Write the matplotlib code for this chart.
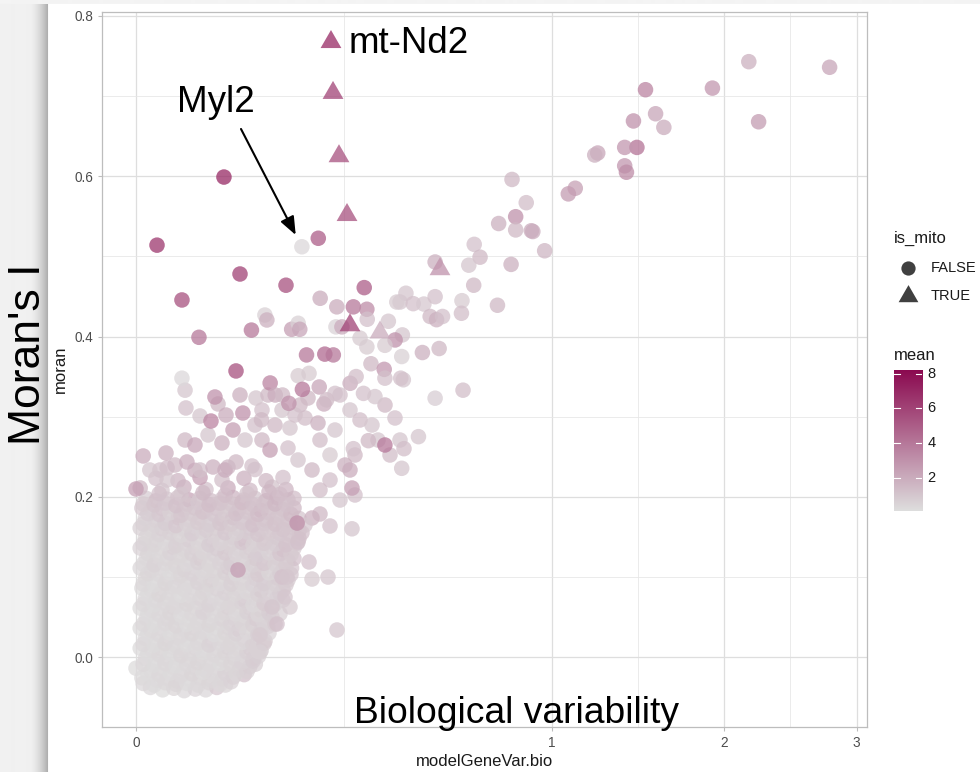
import numpy as np
import matplotlib
matplotlib.use("Agg")
import matplotlib.pyplot as plt
from matplotlib.colors import LinearSegmentedColormap, Normalize
from matplotlib.path import Path

plt.rcParams['font.family'] = ['Liberation Sans', 'DejaVu Sans']

# ---------------- data ----------------
# dense cloud of non-mito genes (modelGeneVar.bio, moran, mean)
cloud_x = [
 0.0012, 0.0041, 0.0083, 0.0134, 0.0203, 0.0281, 0.0377, 0.0462,
 0.0002, 0.0025, 0.0058, 0.0099, 0.0166, 0.0236, 0.0328, 0.0431, 0.0547, 0.0676,
 0.0000, 0.0013, 0.0041, 0.0079, 0.0131, 0.0202, 0.0281, 0.0383, 0.0488, 0.0615, 0.0748, 0.0823,
 0.0005, 0.0022, 0.0057, 0.0101, 0.0163, 0.0235, 0.0327, 0.0425, 0.0546, 0.0671, 0.0792, 0.0868,
 0.0001, 0.0015, 0.0038, 0.0080, 0.0132, 0.0203, 0.0282, 0.0381, 0.0487, 0.0611, 0.0753, 0.0905,
 0.0005, 0.0024, 0.0055, 0.0103, 0.0161, 0.0238, 0.0324, 0.0429, 0.0542, 0.0676, 0.0816, 0.0962,
 0.0001, 0.0013, 0.0040, 0.0078, 0.0134, 0.0200, 0.0285, 0.0378, 0.0491, 0.0612, 0.0750, 0.0901, 0.1002,
 0.0006, 0.0023, 0.0057, 0.0101, 0.0163, 0.0236, 0.0326, 0.0428, 0.0543, 0.0673, 0.0819, 0.0975, 0.1068,
 0.0001, 0.0014, 0.0039, 0.0080, 0.0133, 0.0202, 0.0284, 0.0380, 0.0488, 0.0614, 0.0752, 0.0904, 0.1070,
 0.0005, 0.0022, 0.0056, 0.0102, 0.0161, 0.0237, 0.0325, 0.0426, 0.0545, 0.0675, 0.0817, 0.0978, 0.1150, 0.1247,
 0.0002, 0.0014, 0.0040, 0.0079, 0.0134, 0.0201, 0.0283, 0.0379, 0.0490, 0.0613, 0.0751, 0.0902, 0.1068, 0.1250,
 0.0005, 0.0023, 0.0055, 0.0103, 0.0162, 0.0238, 0.0324, 0.0428, 0.0543, 0.0674, 0.0819, 0.0976, 0.1148, 0.1334,
 0.0001, 0.0014, 0.0039, 0.0079, 0.0132, 0.0200, 0.0283, 0.0380, 0.0489, 0.0612, 0.0751, 0.0904, 0.1069, 0.1248, 0.1398,
 0.0006, 0.0023, 0.0056, 0.0101, 0.0163, 0.0236, 0.0325, 0.0427, 0.0544, 0.0673, 0.0818, 0.0977, 0.1149, 0.1336, 0.1442,
 0.0001, 0.0013, 0.0040, 0.0080, 0.0133, 0.0202, 0.0282, 0.0378, 0.0490, 0.0614, 0.0750, 0.0903, 0.1068, 0.1249, 0.1444,
 0.0005, 0.0024, 0.0057, 0.0102, 0.0161, 0.0238, 0.0326, 0.0426, 0.0545, 0.0675, 0.0817, 0.0976, 0.1150, 0.1335, 0.1534,
 0.0001, 0.0014, 0.0039, 0.0079, 0.0134, 0.0201, 0.0284, 0.0379, 0.0488, 0.0613, 0.0752, 0.0902, 0.1070, 0.1248, 0.1443, 0.1536,
 0.0005, 0.0023, 0.0056, 0.0103, 0.0162, 0.0237, 0.0324, 0.0428, 0.0543, 0.0674, 0.0819, 0.0977, 0.1148, 0.1334, 0.1535,
 0.0002, 0.0013, 0.0040, 0.0080, 0.0132, 0.0200, 0.0283, 0.0380, 0.0489, 0.0612, 0.0751, 0.0903, 0.1069, 0.1249, 0.1443,
 0.0006, 0.0023, 0.0056, 0.0101, 0.0163, 0.0236, 0.0325, 0.0427, 0.0544, 0.0673, 0.0818, 0.0977, 0.1149, 0.1335, 0.1442,
 0.0001, 0.0039, 0.0133, 0.0283, 0.0489, 0.0751, 0.1069, 0.1300,
 0.0023, 0.0102, 0.0237, 0.0427, 0.0674, 0.0977, 0.1249,
 0.0056, 0.0201, 0.0489, 0.0818,
]
cloud_y = [
 -0.038, -0.041, -0.039, -0.042, -0.040, -0.041, -0.038, -0.035,
 -0.026, -0.029, -0.027, -0.030, -0.028, -0.026, -0.029, -0.027, -0.025, -0.022,
 -0.014, -0.017, -0.015, -0.013, -0.016, -0.014, -0.017, -0.015, -0.013, -0.016, -0.012, -0.009,
 -0.002, -0.005, -0.003, -0.001, -0.004, -0.002, -0.005, -0.003, -0.001, -0.004, -0.002, 0.001,
 0.011, 0.008, 0.010, 0.012, 0.009, 0.011, 0.008, 0.010, 0.012, 0.009, 0.011, 0.008,
 0.023, 0.020, 0.022, 0.024, 0.021, 0.023, 0.020, 0.022, 0.024, 0.021, 0.023, 0.020,
 0.036, 0.033, 0.035, 0.037, 0.034, 0.036, 0.033, 0.035, 0.037, 0.034, 0.036, 0.033, 0.038,
 0.048, 0.045, 0.047, 0.049, 0.046, 0.048, 0.045, 0.047, 0.049, 0.046, 0.048, 0.045, 0.050,
 0.061, 0.058, 0.060, 0.062, 0.059, 0.061, 0.058, 0.060, 0.062, 0.059, 0.061, 0.058, 0.063,
 0.073, 0.070, 0.072, 0.074, 0.071, 0.073, 0.070, 0.072, 0.074, 0.071, 0.073, 0.070, 0.074, 0.071,
 0.086, 0.083, 0.085, 0.087, 0.084, 0.086, 0.083, 0.085, 0.087, 0.084, 0.086, 0.083, 0.087, 0.084,
 0.098, 0.095, 0.097, 0.099, 0.096, 0.098, 0.095, 0.097, 0.099, 0.096, 0.098, 0.095, 0.099, 0.096,
 0.111, 0.108, 0.110, 0.112, 0.109, 0.111, 0.108, 0.110, 0.112, 0.109, 0.111, 0.108, 0.112, 0.109, 0.111,
 0.123, 0.120, 0.122, 0.124, 0.121, 0.123, 0.120, 0.122, 0.124, 0.121, 0.123, 0.120, 0.124, 0.121, 0.123,
 0.136, 0.133, 0.135, 0.137, 0.134, 0.136, 0.133, 0.135, 0.137, 0.134, 0.136, 0.133, 0.137, 0.134, 0.136,
 0.148, 0.145, 0.147, 0.149, 0.146, 0.148, 0.145, 0.147, 0.149, 0.146, 0.148, 0.145, 0.149, 0.146, 0.148,
 0.161, 0.158, 0.160, 0.162, 0.159, 0.161, 0.158, 0.160, 0.162, 0.159, 0.161, 0.158, 0.162, 0.159, 0.161, 0.158,
 0.173, 0.170, 0.172, 0.174, 0.171, 0.173, 0.170, 0.172, 0.174, 0.171, 0.173, 0.170, 0.174, 0.171, 0.173,
 0.186, 0.183, 0.185, 0.187, 0.184, 0.186, 0.183, 0.185, 0.187, 0.184, 0.186, 0.183, 0.187, 0.184, 0.186,
 0.198, 0.195, 0.197, 0.199, 0.196, 0.198, 0.195, 0.197, 0.199, 0.196, 0.198, 0.195, 0.199, 0.196, 0.198,
 0.211, 0.208, 0.212, 0.209, 0.211, 0.208, 0.212, 0.209,
 0.223, 0.220, 0.224, 0.221, 0.223, 0.220, 0.224,
 0.236, 0.233, 0.237, 0.234,
]
cloud_mean = [
 0.3, 0.2, 0.4, 0.3, 0.5, 0.3, 0.9, 0.4,
 0.2, 0.3, 0.3, 0.5, 0.2, 0.4, 0.3, 0.6, 0.8, 1.2,
 0.2, 0.3, 0.2, 0.4, 0.3, 0.3, 0.5, 0.3, 0.4, 0.7, 0.9, 0.6,
 0.3, 0.2, 0.3, 0.2, 0.4, 0.3, 0.3, 0.6, 0.5, 0.4, 0.8, 0.5,
 0.2, 0.3, 0.4, 0.3, 0.2, 0.5, 0.3, 0.3, 0.7, 0.5, 1.0, 0.6,
 0.3, 0.2, 0.3, 0.4, 0.3, 0.2, 0.6, 0.4, 0.3, 0.9, 0.5, 0.8,
 0.2, 0.4, 0.3, 0.2, 0.3, 0.5, 0.3, 0.4, 0.6, 1.1, 0.4, 0.7, 0.9,
 0.3, 0.2, 0.5, 0.3, 0.4, 0.3, 0.2, 0.8, 0.5, 0.6, 1.2, 0.5, 0.8,
 0.2, 0.3, 0.3, 0.6, 0.3, 0.4, 0.5, 0.3, 0.9, 0.4, 0.7, 1.0, 0.6,
 0.3, 0.5, 0.2, 0.3, 0.4, 0.8, 0.3, 0.5, 0.4, 1.3, 0.6, 0.5, 0.9, 0.7,
 0.2, 0.3, 0.4, 0.3, 0.6, 0.3, 0.5, 0.9, 0.4, 0.6, 0.5, 1.4, 0.7, 1.0,
 0.4, 0.2, 0.3, 0.5, 0.3, 0.4, 1.0, 0.4, 0.6, 0.5, 0.9, 0.6, 1.2, 0.8,
 0.3, 0.5, 0.3, 0.4, 0.8, 0.3, 0.5, 0.4, 1.2, 0.6, 0.5, 0.8, 0.7, 1.0, 0.9,
 0.3, 0.4, 0.6, 0.3, 0.5, 1.1, 0.4, 0.6, 0.5, 0.8, 1.5, 0.6, 0.9, 0.7, 1.2,
 0.5, 0.3, 0.4, 0.9, 0.4, 0.6, 0.5, 1.3, 0.6, 0.5, 0.9, 0.7, 1.0, 1.6, 0.8,
 0.4, 0.6, 0.3, 0.5, 1.2, 0.5, 0.8, 0.6, 0.7, 1.8, 0.6, 0.9, 1.1, 0.8, 1.3,
 0.6, 0.4, 1.0, 0.5, 0.7, 0.6, 1.5, 0.8, 0.6, 0.9, 1.2, 0.7, 1.0, 1.4, 0.9, 1.1,
 0.5, 0.8, 0.6, 1.3, 0.7, 0.9, 0.6, 1.1, 1.8, 0.8, 1.0, 1.4, 0.9, 1.2, 1.0,
 0.9, 0.6, 1.2, 0.8, 1.0, 1.6, 0.9, 1.2, 0.8, 1.4, 1.1, 2.0, 1.0, 1.3, 1.5,
 0.7, 1.4, 0.9, 1.1, 2.2, 1.0, 1.3, 0.9, 1.6, 1.2, 1.0, 1.5, 1.8, 1.1, 1.3,
 1.5, 1.0, 1.8, 1.2, 2.0, 1.4, 1.1, 1.6,
 1.2, 1.6, 2.4, 1.3, 1.8, 1.5, 1.2,
 1.4, 2.0, 1.6, 1.2,
]

# second (interleaved) layer of the dense cloud
cloud2_x = [
 0.0003, 0.0019, 0.0049, 0.0092, 0.0150, 0.0222, 0.0308, 0.0408, 0.0522,
 0.0008, 0.0031, 0.0067, 0.0117, 0.0181, 0.0259, 0.0352, 0.0458, 0.0578, 0.0712,
 0.0003, 0.0019, 0.0049, 0.0092, 0.0150, 0.0222, 0.0308, 0.0408, 0.0522, 0.0649, 0.0791,
 0.0008, 0.0031, 0.0067, 0.0117, 0.0181, 0.0259, 0.0352, 0.0458, 0.0578, 0.0712, 0.0860,
 0.0003, 0.0019, 0.0049, 0.0092, 0.0150, 0.0222, 0.0308, 0.0408, 0.0522, 0.0649, 0.0791, 0.0947,
 0.0008, 0.0031, 0.0067, 0.0117, 0.0181, 0.0259, 0.0352, 0.0458, 0.0578, 0.0712, 0.0860, 0.1022,
 0.0003, 0.0019, 0.0049, 0.0092, 0.0150, 0.0222, 0.0308, 0.0408, 0.0522, 0.0649, 0.0791, 0.0947, 0.1117,
 0.0008, 0.0031, 0.0067, 0.0117, 0.0181, 0.0259, 0.0352, 0.0458, 0.0578, 0.0712, 0.0860, 0.1022, 0.1198,
 0.0003, 0.0019, 0.0049, 0.0092, 0.0150, 0.0222, 0.0308, 0.0408, 0.0522, 0.0649, 0.0791, 0.0947, 0.1117,
 0.0008, 0.0031, 0.0067, 0.0117, 0.0181, 0.0259, 0.0352, 0.0458, 0.0578, 0.0712, 0.0860, 0.1022, 0.1198,
 0.0003, 0.0019, 0.0049, 0.0092, 0.0150, 0.0222, 0.0308, 0.0408, 0.0522, 0.0649, 0.0791, 0.0947, 0.1117, 0.1300,
 0.0008, 0.0031, 0.0067, 0.0117, 0.0181, 0.0259, 0.0352, 0.0458, 0.0578, 0.0712, 0.0860, 0.1022, 0.1198, 0.1388,
 0.0003, 0.0019, 0.0049, 0.0092, 0.0150, 0.0222, 0.0308, 0.0408, 0.0522, 0.0649, 0.0791, 0.0947, 0.1117, 0.1300,
 0.0008, 0.0031, 0.0067, 0.0117, 0.0181, 0.0259, 0.0352, 0.0458, 0.0578, 0.0712, 0.0860, 0.1022, 0.1198, 0.1388,
 0.0003, 0.0019, 0.0049, 0.0092, 0.0150, 0.0222, 0.0308, 0.0408, 0.0522, 0.0649, 0.0791, 0.0947, 0.1117, 0.1300, 0.1498,
 0.0008, 0.0031, 0.0067, 0.0117, 0.0181, 0.0259, 0.0352, 0.0458, 0.0578, 0.0712, 0.0860, 0.1022, 0.1198, 0.1388, 0.1592,
 0.0003, 0.0019, 0.0049, 0.0092, 0.0150, 0.0222, 0.0308, 0.0408, 0.0522, 0.0649, 0.0791, 0.0947, 0.1117, 0.1300, 0.1498,
 0.0008, 0.0031, 0.0067, 0.0117, 0.0181, 0.0259, 0.0352, 0.0458, 0.0578, 0.0712, 0.0860, 0.1022, 0.1198, 0.1388,
 0.0003, 0.0019, 0.0049, 0.0092, 0.0150, 0.0222, 0.0308, 0.0408, 0.0522, 0.0649, 0.0791, 0.0947, 0.1117, 0.1300,
 0.0031, 0.0117, 0.0259, 0.0458, 0.0712, 0.1022, 0.1198,
]
cloud2_y = [
 -0.033, -0.035, -0.032, -0.034, -0.033, -0.035, -0.032, -0.034, -0.031,
 -0.021, -0.022, -0.020, -0.023, -0.021, -0.019, -0.022, -0.020, -0.021, -0.018,
 -0.009, -0.010, -0.008, -0.011, -0.009, -0.007, -0.010, -0.008, -0.009, -0.007, -0.005,
 0.004, 0.003, 0.005, 0.002, 0.004, 0.006, 0.003, 0.005, 0.004, 0.006, 0.007,
 0.016, 0.015, 0.017, 0.014, 0.016, 0.018, 0.015, 0.017, 0.016, 0.018, 0.015, 0.017,
 0.029, 0.028, 0.030, 0.027, 0.029, 0.031, 0.028, 0.030, 0.029, 0.031, 0.028, 0.030,
 0.041, 0.040, 0.042, 0.039, 0.041, 0.043, 0.040, 0.042, 0.041, 0.043, 0.040, 0.042, 0.041,
 0.054, 0.053, 0.055, 0.052, 0.054, 0.056, 0.053, 0.055, 0.054, 0.056, 0.053, 0.055, 0.054,
 0.066, 0.065, 0.067, 0.064, 0.066, 0.068, 0.065, 0.067, 0.066, 0.068, 0.065, 0.067, 0.066,
 0.079, 0.078, 0.080, 0.077, 0.079, 0.081, 0.078, 0.080, 0.079, 0.081, 0.078, 0.080, 0.079,
 0.091, 0.090, 0.092, 0.089, 0.091, 0.093, 0.090, 0.092, 0.091, 0.093, 0.090, 0.092, 0.091, 0.090,
 0.104, 0.103, 0.105, 0.102, 0.104, 0.106, 0.103, 0.105, 0.104, 0.106, 0.103, 0.105, 0.104, 0.103,
 0.116, 0.115, 0.117, 0.114, 0.116, 0.118, 0.115, 0.117, 0.116, 0.118, 0.115, 0.117, 0.116, 0.115,
 0.129, 0.128, 0.130, 0.127, 0.129, 0.131, 0.128, 0.130, 0.129, 0.131, 0.128, 0.130, 0.129, 0.128,
 0.141, 0.140, 0.142, 0.139, 0.141, 0.143, 0.140, 0.142, 0.141, 0.143, 0.140, 0.142, 0.141, 0.140, 0.142,
 0.154, 0.153, 0.155, 0.152, 0.154, 0.156, 0.153, 0.155, 0.154, 0.156, 0.153, 0.155, 0.154, 0.153, 0.155,
 0.166, 0.165, 0.167, 0.164, 0.166, 0.168, 0.165, 0.167, 0.166, 0.168, 0.165, 0.167, 0.166, 0.165, 0.167,
 0.179, 0.178, 0.180, 0.177, 0.179, 0.181, 0.178, 0.180, 0.179, 0.181, 0.178, 0.180, 0.179, 0.178,
 0.191, 0.190, 0.192, 0.189, 0.191, 0.193, 0.190, 0.192, 0.191, 0.193, 0.190, 0.192, 0.191, 0.190,
 0.204, 0.203, 0.205, 0.202, 0.204, 0.206, 0.203,
]
cloud2_mean = [
 0.3, 0.2, 0.3, 0.4, 0.2, 0.3, 0.4, 0.3, 0.5,
 0.2, 0.3, 0.2, 0.3, 0.4, 0.2, 0.3, 0.5, 0.4, 0.6,
 0.3, 0.2, 0.3, 0.2, 0.3, 0.4, 0.3, 0.2, 0.4, 0.5, 0.7,
 0.2, 0.3, 0.2, 0.4, 0.3, 0.2, 0.3, 0.4, 0.3, 0.6, 0.5,
 0.3, 0.2, 0.4, 0.3, 0.2, 0.3, 0.5, 0.3, 0.4, 0.3, 0.6, 0.8,
 0.2, 0.3, 0.2, 0.3, 0.4, 0.3, 0.2, 0.4, 0.5, 0.3, 0.7, 0.5,
 0.3, 0.2, 0.3, 0.4, 0.2, 0.3, 0.4, 0.3, 0.5, 0.4, 0.6, 0.5, 0.8,
 0.2, 0.3, 0.4, 0.2, 0.3, 0.5, 0.3, 0.4, 0.3, 0.6, 0.4, 0.7, 0.6,
 0.3, 0.2, 0.3, 0.3, 0.4, 0.3, 0.5, 0.3, 0.4, 0.5, 0.3, 0.8, 0.6,
 0.2, 0.4, 0.3, 0.2, 0.3, 0.4, 0.3, 0.5, 0.4, 0.3, 0.6, 0.5, 0.7,
 0.3, 0.2, 0.4, 0.3, 0.3, 0.5, 0.4, 0.3, 0.6, 0.4, 0.5, 0.7, 0.6, 0.8,
 0.4, 0.3, 0.2, 0.4, 0.5, 0.3, 0.4, 0.6, 0.3, 0.5, 0.8, 0.4, 0.7, 0.9,
 0.3, 0.5, 0.3, 0.4, 0.3, 0.6, 0.4, 0.5, 0.7, 0.4, 0.6, 0.9, 0.6, 0.8,
 0.4, 0.3, 0.5, 0.4, 0.6, 0.4, 0.5, 0.8, 0.5, 0.6, 0.7, 0.5, 1.0, 0.8,
 0.5, 0.4, 0.3, 0.6, 0.5, 0.4, 0.7, 0.5, 0.6, 0.9, 0.6, 0.8, 0.7, 1.1, 0.9,
 0.4, 0.5, 0.6, 0.4, 0.7, 0.5, 0.6, 0.9, 0.6, 0.7, 1.0, 0.8, 0.9, 1.0, 1.2,
 0.6, 0.5, 0.7, 0.9, 0.6, 0.8, 0.7, 1.0, 0.8, 0.9, 1.2, 0.9, 1.1, 1.0, 1.3,
 0.7, 0.9, 0.6, 1.0, 0.8, 1.1, 0.9, 0.8, 1.2, 1.0, 1.3, 1.1, 1.0, 1.4,
 0.8, 1.0, 0.9, 1.2, 1.0, 0.9, 1.3, 1.1, 1.0, 1.4, 1.2, 1.1, 1.5, 1.2,
 1.2, 1.0, 1.5, 1.3, 1.1, 1.6, 1.3,
]

# scattered non-mito genes
spread_x = [
 0.2696, 0.2175, 0.1956, 0.1790, 0.2130, 0.1790, 0.1730, 0.2334, 0.1283, 0.1149,
 0.1370, 0.1069, 0.0889, 0.0889, 0.1232, 0.1317, 0.1517, 0.1650, 0.1500, 0.0601,
 0.0000, 0.0003, 0.0033, 0.0056, 0.0088, 0.0150, 0.0237, 0.0343, 0.0458, 0.0578,
 0.0778, 0.0917, 0.1038, 0.1335, 0.1517, 0.1790, 0.1956, 0.2175, 0.0139, 0.0201,
 0.0300, 0.0427, 0.0687, 0.0544, 0.0818, 0.1117, 0.1370, 0.1651, 0.1914, 0.2288,
 0.1554, 0.0917, 0.0052, 0.0011, 0.0144, 0.0237, 0.0389, 0.0625, 0.0832, 0.1007,
 0.1232, 0.1461, 0.1710, 0.2042, 0.2405, 0.2646, 0.2900, 0.3218, 0.3583, 0.3876,
 0.3384, 0.3728, 0.4027, 0.2771, 0.2524, 0.2175, 0.1956, 0.2405, 0.2771, 0.2696,
 0.2646,
]
spread_y = [
 0.160, 0.1635, 0.1785, 0.1735, 0.0998, 0.0973, 0.1186, 0.0337, 0.0749, 0.0412,
 0.0624, 0.0624, 0.0275, 0.0060, 0.0998, 0.0998, 0.1435, 0.1647, 0.1672, 0.1086,
 0.2097, 0.2509, 0.2334, 0.2209, 0.2396, 0.2434, 0.2334, 0.2371, 0.2334, 0.2434,
 0.2384, 0.2708, 0.2583, 0.2608, 0.2459, 0.2334, 0.2708, 0.2521, 0.2708, 0.2646,
 0.2771, 0.2671, 0.2708, 0.2833, 0.2895, 0.2895, 0.2858, 0.2983, 0.2920, 0.2833,
 0.3145, 0.3083, 0.2546, 0.2334, 0.3108, 0.3008, 0.3158, 0.3270, 0.3232, 0.3270,
 0.3083, 0.3020, 0.3232, 0.3158, 0.3270, 0.3083, 0.2958, 0.2895, 0.3145, 0.2983,
 0.2708, 0.2521, 0.2708, 0.2521, 0.2396, 0.2209, 0.2084, 0.1959, 0.2022, 0.2109,
 0.2334,
]
spread_mean = [
 1.0, 1.2, 1.5, 1.8, 1.0, 0.8, 1.2, 1.0, 1.0, 1.2,
 0.8, 1.0, 0.8, 0.6, 1.2, 1.0, 1.2, 1.0, 3.0, 2.5,
 2.5, 2.0, 1.2, 1.0, 1.5, 2.0, 1.2, 1.8, 2.0, 1.5,
 1.2, 1.5, 2.5, 1.2, 1.0, 1.5, 1.3, 0.8, 1.5, 2.2,
 1.0, 1.8, 1.0, 2.5, 1.2, 1.5, 1.0, 1.3, 1.8, 1.0,
 1.5, 1.2, 1.8, 1.0, 1.2, 1.0, 1.5, 1.8, 1.0, 1.5,
 1.0, 1.2, 1.5, 2.0, 1.2, 1.0, 1.3, 1.0, 1.5, 1.2,
 1.0, 1.3, 1.0, 1.5, 1.8, 1.2, 1.3, 1.0, 1.2, 2.5,
 2.0,
]

# upper outliers (non-mito)
upper_x = [
 2.78, 2.17, 1.92, 2.24, 1.50, 1.56, 1.43, 1.61, 1.45, 1.38,
 1.38, 1.39, 1.232, 1.216, 1.115, 1.080, 0.817, 0.880, 0.760, 0.833,
 0.833, 0.903, 0.910, 0.965, 0.661, 0.684, 0.640, 0.813, 0.517, 0.659,
 0.421, 0.403, 0.444, 0.479, 0.517, 0.614, 0.500, 0.522, 0.543, 0.612,
 0.755, 0.410, 0.474, 0.531, 0.408, 0.413, 0.405, 0.618, 0.517,
 0.192, 0.159, 0.130, 0.301, 0.196, 0.233, 0.273, 0.308, 0.309, 0.096,
 0.099, 0.077, 0.140, 0.152, 0.155, 0.231, 0.245, 0.290, 0.308, 0.368,
 0.393, 0.388, 0.358, 0.168, 0.206, 0.225, 0.319, 0.173, 0.152, 0.104,
 0.160, 0.194, 0.112, 0.124, 0.135, 0.210, 0.229, 0.265, 0.280, 0.356,
 0.358, 0.299, 0.330, 0.358, 0.415, 0.461, 0.408, 0.312, 0.273, 0.091,
 0.0447, 0.00255, 0.0122, 0.0625, 0.0229, 0.0578, 0.036, 0.0139, 0.0122, 0.066,
 0.0468, 0.0325,
]
upper_y = [
 0.736, 0.743, 0.710, 0.668, 0.708, 0.678, 0.669, 0.661, 0.636, 0.636,
 0.613, 0.605, 0.629, 0.6265, 0.585, 0.578, 0.596, 0.567, 0.541, 0.5495,
 0.533, 0.532, 0.531, 0.507, 0.515, 0.499, 0.489, 0.490, 0.493, 0.464,
 0.454, 0.443, 0.441, 0.4405, 0.4497, 0.4447, 0.425, 0.421, 0.425, 0.429,
 0.439, 0.402, 0.380, 0.385, 0.375, 0.346, 0.348, 0.333, 0.323,
 0.5226, 0.512, 0.464, 0.461, 0.4477, 0.437, 0.437, 0.434, 0.4215, 0.4268,
 0.4206, 0.408, 0.409, 0.4165, 0.409, 0.412, 0.412, 0.398, 0.387, 0.419,
 0.443, 0.3957, 0.389, 0.377, 0.378, 0.377, 0.366, 0.354, 0.351, 0.342,
 0.334, 0.337, 0.327, 0.327, 0.3166, 0.321, 0.329, 0.3416, 0.350, 0.359,
 0.348, 0.329, 0.325, 0.2646, 0.260, 0.275, 0.2355, 0.270, 0.260, 0.296,
 0.599, 0.514, 0.4456, 0.478, 0.399, 0.357, 0.3245, 0.333, 0.348, 0.3045,
 0.302, 0.2945,
]
upper_mean = [
 2.2, 1.8, 2.8, 2.6, 3.5, 2.2, 3.0, 2.0, 4.2, 2.8,
 2.8, 3.2, 2.2, 1.8, 2.4, 2.6, 1.5, 1.3, 1.8, 3.0,
 1.5, 2.0, 2.0, 1.6, 1.2, 1.5, 1.0, 1.8, 1.8, 1.5,
 1.0, 1.0, 1.2, 0.9, 1.2, 0.8, 1.5, 1.8, 1.2, 1.3,
 1.5, 1.0, 1.8, 1.5, 0.6, 1.0, 1.2, 1.3, 0.7,
 5.0, 0.3, 5.5, 5.0, 2.0, 2.0, 4.0, 3.2, 1.2, 0.6,
 1.8, 4.0, 2.5, 0.6, 2.2, 0.5, 2.0, 0.8, 0.8, 1.0,
 0.8, 3.0, 0.8, 4.0, 4.5, 4.0, 1.5, 0.8, 0.8, 3.5,
 4.0, 2.2, 2.0, 1.5, 3.0, 1.5, 1.2, 2.0, 1.3, 2.8,
 1.2, 1.2, 1.0, 4.0, 1.3, 1.0, 1.0, 1.5, 1.2, 1.5,
 7.0, 6.5, 5.5, 6.0, 4.0, 5.5, 3.0, 1.0, 0.3, 3.0,
 2.0, 3.5,
]

# mitochondrial genes (is_mito = TRUE)
mito_x = [0.2197, 0.2243, 0.2381, 0.2573, 0.2646, 0.3440, 0.5340]
mito_y = [0.7675, 0.7040, 0.6250, 0.5516, 0.4140, 0.4050, 0.4840]
mito_mean = [7.0, 6.0, 5.5, 5.5, 6.0, 2.0, 3.0]

# annotations
label_mtnd2 = "mt-Nd2"
label_myl2 = "Myl2"

x_ticks = [0, 1, 2, 3]
y_ticks = [0.0, 0.2, 0.4, 0.6, 0.8]
y_tick_labels = ["0.0", "0.2", "0.4", "0.6", "0.8"]
cbar_ticks = [2, 4, 6, 8]
mean_range = (0.06, 8.23)

# ---------------- figure ----------------
W, H = 980, 772
fig = plt.figure(figsize=(W / 100, H / 100), dpi=100)
fig.patch.set_facecolor('white')

# slide background / drop shadow
bg = fig.add_axes([0, 0, 1, 1], zorder=-10)
bg.axis('off')
img = np.ones((H, W))
img[:, :48] = 0.945
img[:4, :] = 0.955
for c in range(28, 48):
    t = (c - 28) / 19.0
    img[4:, c] = 0.945 - 0.26 * t ** 1.8
bg.imshow(img, cmap='gray', vmin=0, vmax=1, extent=[0, W, H, 0], aspect='auto',
          interpolation='bilinear')
bg.set_xlim(0, W)
bg.set_ylim(H, 0)

ax = fig.add_axes([102 / W, 1 - 727 / H, (867 - 102) / W, (727 - 12) / H])

fwd = lambda x: np.sign(x) * np.sqrt(np.abs(x))
inv = lambda u: np.sign(u) * u ** 2
ax.set_xscale('function', functions=(fwd, inv))
ax.set_xlim(-0.00668, 3.0878)
ax.set_ylim(-0.08736, 0.80499)

ax.set_xticks(x_ticks)
ax.set_xticklabels([str(t) for t in x_ticks])
ax.set_xticks([0.25, 1.457, 2.475], minor=True)
ax.set_yticks(y_ticks)
ax.set_yticklabels(y_tick_labels)
ax.set_yticks([0.1, 0.3, 0.5, 0.7], minor=True)
ax.grid(True, which='major', color='#DEDEDE', linewidth=0.9)
ax.grid(True, which='minor', color='#E6E6E6', linewidth=0.55)
ax.set_axisbelow(True)
for s in ax.spines.values():
    s.set_color('#BDBDBD')
    s.set_linewidth(0.9)
ax.tick_params(which='major', length=3, width=0.8, color='#BDBDBD',
               labelsize=9.8, labelcolor='#4D4D4D', pad=3.5)
ax.tick_params(which='minor', length=0)

cmap = LinearSegmentedColormap.from_list('mean', ['#DEDEDE', '#8B0A50'])
norm = Normalize(vmin=mean_range[0], vmax=mean_range[1])
ALPHA = 0.75
S_CIRC = 125
tri_path = Path([(0, 1), (-0.866, -0.5), (0.866, -0.5), (0, 1)],
                [Path.MOVETO, Path.LINETO, Path.LINETO, Path.CLOSEPOLY])

for xs, ys, ms in [(cloud_x, cloud_y, cloud_mean),
                   (cloud2_x, cloud2_y, cloud2_mean),
                   (spread_x, spread_y, spread_mean),
                   (upper_x, upper_y, upper_mean)]:
    ax.scatter(xs, ys, c=ms, cmap=cmap, norm=norm, s=S_CIRC,
               alpha=ALPHA, linewidths=0, marker='o', zorder=2)
ax.scatter(mito_x, mito_y, c=mito_mean, cmap=cmap, norm=norm, s=300,
           alpha=ALPHA, linewidths=0, marker=tri_path, zorder=3)

# annotations
ax.text(0.2622, 0.7534, label_mtnd2, fontsize=26.5, color='black',
        ha='left', va='baseline', zorder=5)
ax.text(0.00957, 0.6806, label_myl2, fontsize=26.5, color='black',
        ha='left', va='baseline', zorder=5)
ax.annotate('', xy=(0.1474, 0.5267), xytext=(0.0637, 0.659),
            arrowprops=dict(arrowstyle='-|>,head_length=0.55,head_width=0.22',
                            color='black', lw=1.5,
                            mutation_scale=20, shrinkA=0, shrinkB=0), zorder=5)

fig.text(354 / W, 1 - 723 / H, "Biological variability", fontsize=26.8,
         color='black', ha='left', va='baseline')
fig.text(28 / W, 1 - 354 / H, "Moran's I", fontsize=32, color='black',
         rotation=90, ha='center', va='center')

# axis titles
fig.text(484.5 / W, 1 - 762 / H, "modelGeneVar.bio", fontsize=12,
         color='#1A1A1A', ha='center', va='center')
fig.text(60 / W, 1 - 369.5 / H, "moran", fontsize=12, color='#1A1A1A',
         rotation=90, ha='center', va='center')

# shape legend
fig.text(894 / W, 1 - 238 / H, "is_mito", fontsize=12, color='#1A1A1A',
         ha='left', va='center')
lg = fig.add_axes([0, 0, 1, 1], zorder=4)
lg.set_xlim(0, W)
lg.set_ylim(H, 0)
lg.axis('off')
lg.scatter([908], [268], s=105, color='black', alpha=ALPHA, linewidths=0, marker='o')
lg.scatter([908], [296], s=270, color='black', alpha=ALPHA, linewidths=0, marker=tri_path)
fig.text(931 / W, 1 - 268 / H, "FALSE", fontsize=10.5, color='#1A1A1A',
         ha='left', va='center')
fig.text(931 / W, 1 - 296 / H, "TRUE", fontsize=10.5, color='#1A1A1A',
         ha='left', va='center')

# colour bar
fig.text(894 / W, 1 - 355 / H, "mean", fontsize=12, color='#1A1A1A',
         ha='left', va='center')
cb_top, cb_bot = 370, 511
cax = fig.add_axes([894 / W, 1 - cb_bot / H, 28 / W, (cb_bot - cb_top) / H])
grad = np.linspace(mean_range[0], mean_range[1], 256).reshape(-1, 1)
cax.imshow(grad, cmap=cmap, norm=norm, aspect='auto', origin='lower',
           extent=[0, 1, mean_range[0], mean_range[1]])
cax.set_xlim(0, 1)
cax.set_ylim(mean_range[0], mean_range[1])
cax.axis('off')
for t in cbar_ticks:
    cax.plot([0, 0.2], [t, t], color='white', lw=0.8)
    cax.plot([0.8, 1], [t, t], color='white', lw=0.8)
    cax.text(1.2, t, str(t), fontsize=10.5, color='#1A1A1A', ha='left',
             va='center', transform=cax.transData, clip_on=False)

fig.savefig('out.png', dpi=100, facecolor=fig.get_facecolor())
